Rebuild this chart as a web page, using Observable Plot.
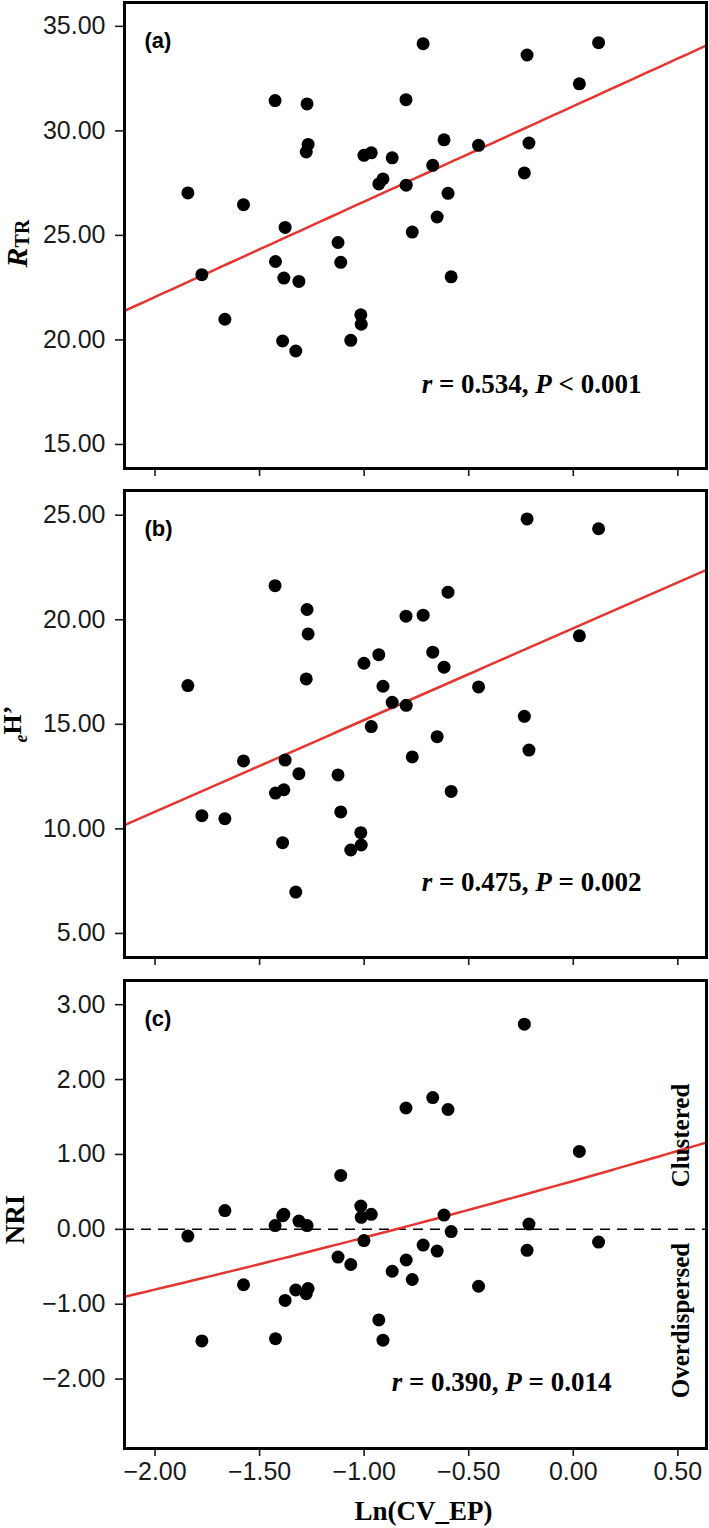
<!DOCTYPE html>
<html><head><meta charset="utf-8">
<script src="https://cdn.jsdelivr.net/npm/d3@7"></script>
<script src="https://cdn.jsdelivr.net/npm/@observablehq/plot@0.6"></script>
<style>
body{margin:0;background:#fff;}
#chart{width:709px;}
#chart svg{display:block;}
#chart svg [aria-label*="tick"] path, #chart svg .tick line{stroke-width:1.6px;}
</style></head><body><div id="chart"></div>
<script>
// shared x: Ln(CV_EP)
const lnCV = [-1.843,-1.776,-1.666,-1.577,-1.426,-1.424,-1.378,-1.384,-1.390,-1.327,
  -1.312,-1.273,-1.268,-1.277,-1.125,-1.112,-1.016,-1.014,-1.064,-1.001,
  -0.966,-0.930,-0.910,-0.866,-0.800,-0.799,-0.770,-0.718,-0.672,-0.651,
  -0.618,-0.599,-0.584,-0.453,-0.234,-0.221,-0.212,0.029,0.121];
// (a) R_TR
const rTR = [27.03,23.12,20.99,26.47,31.45,23.75,25.38,22.96,19.95,19.47,
  22.80,31.29,29.35,28.99,24.66,23.71,21.20,20.75,19.98,28.83,
  28.95,27.46,27.70,28.71,31.49,27.40,25.16,34.17,28.35,25.88,
  29.57,27.01,23.02,29.31,27.99,33.63,29.42,32.25,34.22];
// (b) eH'
const eH = [16.85,10.63,10.49,13.25,21.63,11.71,13.29,11.87,9.34,6.98,
  12.64,20.49,19.32,17.17,12.58,10.81,9.82,9.23,8.99,17.92,
  14.89,18.33,16.82,16.05,20.17,15.91,13.44,20.22,18.45,14.41,
  17.73,21.32,11.79,16.79,15.38,24.82,13.77,19.23,24.35];
// (c) NRI
const nri = [-0.09,-1.49,0.25,-0.74,0.05,-1.46,-0.95,0.20,0.18,-0.81,
  0.11,0.05,-0.79,-0.86,-0.37,0.72,0.31,0.16,-0.47,-0.15,
  0.20,-1.21,-1.48,-0.56,1.62,-0.41,-0.67,-0.21,1.76,-0.29,
  0.19,1.60,-0.03,-0.76,2.74,-0.28,0.07,1.04,-0.17];

const xTicks = [-2, -1.5, -1, -0.5, 0, 0.5];
const yTicksA = [15, 20, 25, 30, 35];
const yTicksB = [5, 10, 15, 20, 25];
const yTicksC = [-2, -1, 0, 1, 2, 3];
const xDomain = [-2.146, 0.637];
const yDomainA = [13.85, 36.14];
const yDomainB = [3.85, 26.18];
const yDomainC = [-2.927, 3.323];
// fitted curves: [c0, c1, c2]
const fitA = [31.18, 4.563, 0];
const fitB = [19.59, 4.384, 0];
const fitC = [0.646, 0.787, 0.031];
const panelLabels = ["(a)", "(b)", "(c)"];
const statTexts = ["r = 0.534, P < 0.001", "r = 0.475, P = 0.002", "r = 0.390, P = 0.014"];
const yTitles = ["RTR", "eH\u2019", "NRI"];
const xTitle = "Ln(CV_EP)";
const sideLabels = ["Clustered", "Overdispersed"];

const fmt = d3.format(".2f");
const red = "#e53530";
const serif = "Liberation Serif, Times New Roman, serif";
const sans = "Liberation Sans, Arial, Helvetica, sans-serif";

function panel({yv, yDomain, yTicks, fit, label, stat, statDx, statDy, yTitle, titleFont, titleDx, titleDy, showX, extra = [], after = [], height, marginBottom}) {
  const data = lnCV.map((x, i) => ({x, y: yv[i]}));
  const xs = d3.range(61).map(i => xDomain[0] + i * (xDomain[1] - xDomain[0]) / 60);
  const fitPts = xs.map(x => ({x, y: fit[0] + fit[1] * x + fit[2] * x * x}));
  return Plot.plot({
    width: 709, height, marginLeft: 124, marginRight: 3, marginTop: 2, marginBottom,
    style: {fontFamily: sans, fontSize: "25px", color: "#1a1a1a", background: "white", overflow: "visible"},
    x: {domain: xDomain, ticks: xTicks, tickFormat: showX ? fmt : () => "", tickSize: 8, tickPadding: 6, label: null},
    y: {domain: yDomain, ticks: yTicks, tickFormat: fmt, tickSize: 9, tickPadding: 10, label: null},
    marks: [
      ...extra,
      Plot.line(fitPts, {x: "x", y: "y", stroke: red, strokeWidth: 2.5}),
      Plot.dot(data, {x: "x", y: "y", r: 6.5, fill: "black"}),
      Plot.frame({stroke: "black", strokeWidth: 3}),
      Plot.text([label], {text: d => d, frameAnchor: "top-left", dx: 20, dy: 38, textAnchor: "start", lineAnchor: "middle",
        fontFamily: sans, fontWeight: "bold", fontSize: 22, fill: "black"}),
      Plot.text([stat], {text: d => d, frameAnchor: "bottom-right", dx: statDx, dy: statDy, textAnchor: "end", lineAnchor: "middle",
        fontFamily: serif, fontWeight: "bold", fontSize: 27, fill: "black"}),
      Plot.text([yTitle], {text: d => d, frameAnchor: "left", dx: titleDx, dy: titleDy, rotate: -90, textAnchor: "middle", lineAnchor: "bottom",
        fontFamily: serif, fontWeight: "bold", fontSize: titleFont, fill: "black"}),
      ...after
    ]
  });
}

function richStat(svg, key) {
  d3.select(svg).selectAll("text").filter(function () { return this.textContent === key; }).each(function () {
    const t = d3.select(this);
    t.text(null);
    key.split(/(\br\b|\bP\b)/).filter(s => s.length).forEach(s => {
      const sp = t.append("tspan").text(s);
      if (s === "r" || s === "P") sp.attr("font-style", "italic");
    });
  });
}
function richParts(svg, key, parts) {
  d3.select(svg).selectAll("text").filter(function () { return this.textContent === key; }).each(function () {
    const t = d3.select(this);
    t.text(null);
    parts.forEach(p => {
      const sp = t.append("tspan").text(p.t);
      if (p.i) sp.attr("font-style", "italic");
      if (p.fs) sp.attr("font-size", p.fs);
      if (p.dy) sp.attr("dy", p.dy);
    });
  });
}

const chart = document.getElementById("chart");

const svgA = panel({yv: rTR, yDomain: yDomainA, yTicks: yTicksA, fit: fitA, label: panelLabels[0], stat: statTexts[0],
  statDx: -65, statDy: -84, yTitle: yTitles[0], titleFont: 30, titleDx: -98, titleDy: 8, showX: false, height: 488, marginBottom: 20});
richStat(svgA, statTexts[0]);
richParts(svgA, yTitles[0], [{t: "R", i: true}, {t: "TR", fs: "20px", dy: "2"}]);
chart.appendChild(svgA);

const svgB = panel({yv: eH, yDomain: yDomainB, yTicks: yTicksB, fit: fitB, label: panelLabels[1], stat: statTexts[1],
  statDx: -65, statDy: -75, yTitle: yTitles[1], titleFont: 26, titleDx: -104, titleDy: 0, showX: false, height: 490, marginBottom: 21});
richStat(svgB, statTexts[1]);
richParts(svgB, yTitles[1], [{t: "e", i: true, fs: "18px", dy: "6"}, {t: "H\u2019", dy: "-6"}]);
chart.appendChild(svgB);

const svgC = panel({yv: nri, yDomain: yDomainC, yTicks: yTicksC, fit: fitC, label: panelLabels[2], stat: statTexts[2],
  statDx: -95, statDy: -66, yTitle: yTitles[2], titleFont: 27, titleDx: -101, titleDy: 5, showX: true, height: 550, marginBottom: 80,
  extra: [Plot.ruleY([0], {stroke: "black", strokeWidth: 1.5, strokeDasharray: "10,7"})],
  after: [
    Plot.text([xTitle], {text: d => d, frameAnchor: "bottom", dx: 8, dy: 63, lineAnchor: "middle",
      fontFamily: serif, fontWeight: "bold", fontSize: 27, fill: "black"}),
    Plot.text([sideLabels[0]], {text: d => d, frameAnchor: "right", dx: -26, dy: -79, rotate: -90, textAnchor: "middle", lineAnchor: "middle",
      fontFamily: serif, fontWeight: "bold", fontSize: 25, fill: "black"}),
    Plot.text([sideLabels[1]], {text: d => d, frameAnchor: "right", dx: -26, dy: 106, rotate: -90, textAnchor: "middle", lineAnchor: "middle",
      fontFamily: serif, fontWeight: "bold", fontSize: 25, fill: "black"})
  ]});
richStat(svgC, statTexts[2]);
chart.appendChild(svgC);
</script>
</body></html>
